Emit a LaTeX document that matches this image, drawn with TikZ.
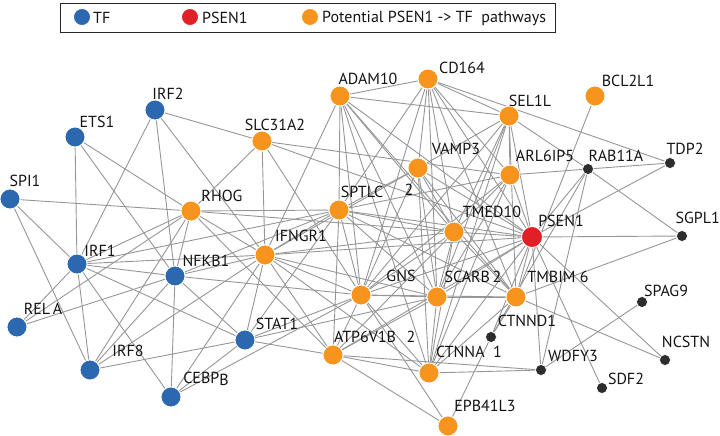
\documentclass[tikz,border=0pt]{standalone}
\usepackage{xcolor}
\usepackage{fontspec}
\setmainfont{PT Sans}
\usepackage{tikz}
\usetikzlibrary{backgrounds}

\definecolor{tfblue}{RGB}{44,104,176}
\definecolor{pathorange}{RGB}{247,148,30}
\definecolor{psenred}{RGB}{224,32,38}
\definecolor{otherdark}{RGB}{45,45,45}
\definecolor{edgegray}{RGB}{150,150,150}

\begin{document}
\begin{tikzpicture}[x=1pt, y=-1pt,
  tf/.style={circle, fill=tfblue, draw=white, line width=0.8pt, minimum size=20pt, inner sep=0pt},
  pway/.style={circle, fill=pathorange, draw=white, line width=0.8pt, minimum size=20pt, inner sep=0pt},
  psen/.style={circle, fill=psenred, draw=white, line width=0.8pt, minimum size=21pt, inner sep=0pt},
  other/.style={circle, fill=otherdark, draw=white, line width=0.6pt, minimum size=11pt, inner sep=0pt},
  lab/.style={font=\fontsize{16}{18}\selectfont, inner sep=0pt, text=black!92},
  edge/.style={edgegray, line width=0.9pt}
]
  \useasboundingbox (0,0) rectangle (720,436);

  % legend
  \node[draw=black!85, line width=1pt, minimum width=495pt, minimum height=29pt,
        anchor=north west] (legend) at (60,3) {};
  \node[tf, minimum size=17pt] (key-tf) at (82,17) {};
  \node[lab, anchor=west] (key-tf-t) at (93,18) {TF};
  \node[psen, minimum size=17pt] (key-psen) at (190,17) {};
  \node[lab, anchor=west] (key-psen-t) at (202,18) {PSEN1};
  \node[pway, minimum size=17pt] (key-pway) at (310,17) {};
  \node[lab, anchor=west] (key-pway-t) at (322,18) {Potential PSEN1 -> TF\ \ pathways};

  % transcription factors
  \node[tf] (irf2)  at (155,110) {};
  \node[tf] (ets1)  at (75,137) {};
  \node[tf] (spi1)  at (10,199) {};
  \node[tf] (irf1)  at (77,264) {};
  \node[tf] (nfkb1) at (175,276) {};
  \node[tf] (rela)  at (17,327) {};
  \node[tf] (irf8)  at (90,370) {};
  \node[tf] (cebpb) at (171,397) {};
  \node[tf] (stat1) at (245,340) {};

  % pathway genes
  \node[pway] (rhog)    at (191,211) {};
  \node[pway] (slc31a2) at (262,141) {};
  \node[pway] (adam10)  at (340,96) {};
  \node[pway] (cd164)   at (428,79) {};
  \node[pway] (bcl2l1)  at (595,96) {};
  \node[pway] (sel1l)   at (509,116) {};
  \node[pway] (vamp3)   at (418,168) {};
  \node[pway] (arl6ip5) at (510,175) {};
  \node[pway] (sptlc)   at (339,210) {};
  \node[pway] (ifngr1)  at (265,255) {};
  \node[pway] (tmed10)  at (454,232) {};
  \node[pway] (gns)     at (361,295) {};
  \node[pway] (scarb2)  at (437,297) {};
  \node[pway] (tmbim6)  at (516,297) {};
  \node[pway] (atp6v1b) at (333,355) {};
  \node[pway] (ctnna1)  at (429,373) {};
  \node[pway] (epb41l3) at (448,426) {};

  % PSEN1 and partners
  \node[psen] (psen1)   at (532,237) {};
  \node[other] (rab11a) at (588,169) {};
  \node[other] (tdp2)   at (670,163) {};
  \node[other] (sgpl1)  at (682,236) {};
  \node[other] (spag9)  at (642,302) {};
  \node[other] (ctnnd1) at (491,337) {};
  \node[other] (wdfy3)  at (541,370) {};
  \node[other] (ncstn)  at (665,360) {};
  \node[other] (sdf2)   at (602,388) {};

  % labels
  \node[lab] (t-irf2)    at (168,94)  {IRF2};
  \node[lab] (t-ets1)    at (97,122)  {ETS1};
  \node[lab] (t-spi1)    at (25,181)  {SPI1};
  \node[lab] (t-irf1)    at (100,251) {IRF1};
  \node[lab] (t-nfkb1)   at (206,261) {NFKB1};
  \node[lab] (t-rela)    at (43,309)  {REL\,A};
  \node[lab] (t-irf8)    at (128,351) {IRF8};
  \node[lab] (t-cebpb)   at (206,379) {CEBP\raisebox{-2pt}{B}};
  \node[lab] (t-stat1)   at (277,324) {STAT1};
  \node[lab] (t-rhog)    at (222,196) {RHOG};
  \node[lab] (t-slc31a2) at (275,125) {SLC31A2};
  \node[lab] (t-adam10)  at (368,79)  {ADAM10};
  \node[lab] (t-cd164)   at (462,68)  {CD164};
  \node[lab] (t-bcl2l1)  at (628,81)  {BCL2L1};
  \node[lab] (t-sel1l)   at (530,101) {SEL1L};
  \node[lab] (t-vamp3)   at (456,149) {VAMP3};
  \node[lab] (t-arl6ip5) at (545,156) {ARL6IP5};
  \node[lab] (t-sptlc)   at (362,192) {SPTLC};
  \node[lab] (t-sptlc2)  at (409,190) {2};
  \node[lab] (t-ifngr1)  at (301,236) {IFNGR1};
  \node[lab] (t-tmed10)  at (492,212) {TMED10};
  \node[lab] (t-gns)     at (401,276) {GNS};
  \node[lab] (t-scarb2)  at (473,277) {SCARB\,2};
  \node[lab] (t-tmbim6)  at (558,277) {TMBIM\ 6};
  \node[lab] (t-atp6v1b) at (365,337) {ATP6V1B};
  \node[lab] (t-atp2)    at (411,337) {2};
  \node[lab] (t-ctnna1)  at (469,352) {CTNNA\ \ 1};
  \node[lab] (t-epb41l3) at (485,406) {EPB41L3};
  \node[lab] (t-psen1)   at (561,221) {PSEN1};
  \node[lab] (t-rab11a)  at (616,156) {RAB11A};
  \node[lab] (t-tdp2)    at (685,149) {TDP2};
  \node[lab, anchor=east] (t-sgpl1) at (720,218) {SGPL1};
  \node[lab] (t-spag9)   at (666,291) {SPAG9};
  \node[lab] (t-ctnnd1)  at (527,321) {CTNND1};
  \node[lab] (t-wdfy3)   at (573,356) {WDFY3};
  \node[lab] (t-ncstn)   at (686,342) {NCSTN};
  \node[lab] (t-sdf2)    at (626,379) {SDF2};

  % interactions
  \begin{scope}[on background layer]
    \foreach \b in {irf1,nfkb1,slc31a2,ifngr1} \draw[edge] (irf2) -- (\b);
    \foreach \b in {irf1,nfkb1,rhog} \draw[edge] (ets1) -- (\b);
    \foreach \b in {rhog,irf1,irf8} \draw[edge] (spi1) -- (\b);
    \foreach \b in {irf1,nfkb1,rhog} \draw[edge] (rela) -- (\b);
    \foreach \b in {rhog,nfkb1,ifngr1,irf8,cebpb,stat1,sptlc} \draw[edge] (irf1) -- (\b);
    \foreach \b in {rhog,ifngr1,cebpb,stat1,irf8,sptlc,gns} \draw[edge] (nfkb1) -- (\b);
    \foreach \b in {rhog,ifngr1,stat1} \draw[edge] (irf8) -- (\b);
    \foreach \b in {ifngr1,stat1,gns} \draw[edge] (cebpb) -- (\b);
    \foreach \b in {ifngr1,gns,atp6v1b,sptlc,scarb2} \draw[edge] (stat1) -- (\b);
    \foreach \b in {slc31a2,ifngr1,sptlc,tmed10,atp6v1b} \draw[edge] (rhog) -- (\b);
    \foreach \b in {ifngr1,gns,psen1,arl6ip5} \draw[edge] (slc31a2) -- (\b);
    \foreach \b in {ifngr1,sptlc,cd164,sel1l,tmed10,psen1,scarb2,gns,tmbim6,ctnna1}
      \draw[edge] (adam10) -- (\b);
    \foreach \b in {sel1l,tdp2,vamp3,sptlc,tmed10,psen1,scarb2,tmbim6,arl6ip5,gns}
      \draw[edge] (cd164) -- (\b);
    \foreach \b in {rab11a,arl6ip5,tmed10,psen1,scarb2,tmbim6,vamp3,ctnna1,gns}
      \draw[edge] (sel1l) -- (\b);
    \draw[edge] (bcl2l1) -- (tmbim6);
    \foreach \b in {sptlc,tmed10,psen1,scarb2,tmbim6,gns,ctnna1,ifngr1} \draw[edge] (vamp3) -- (\b);
    \foreach \b in {rab11a,tmed10,psen1,scarb2,gns,sptlc,ctnna1} \draw[edge] (arl6ip5) -- (\b);
    \foreach \b in {tdp2,sgpl1,psen1,ctnnd1,wdfy3} \draw[edge] (rab11a) -- (\b);
    \draw[edge] (tdp2) -- (psen1);
    \foreach \b in {psen1,gns,scarb2,sptlc,ifngr1,ctnna1,tmbim6,atp6v1b} \draw[edge] (tmed10) -- (\b);
    \foreach \b in {sgpl1,tmbim6,scarb2,gns,ctnna1,ctnnd1,wdfy3,sdf2,ncstn,ifngr1,sptlc,atp6v1b}
      \draw[edge] (psen1) -- (\b);
    \draw[edge] (sgpl1) -- (tmbim6);
    \foreach \b in {scarb2,ncstn,ctnnd1,gns,ctnna1} \draw[edge] (tmbim6) -- (\b);
    \draw[edge] (spag9) -- (wdfy3);
    \foreach \b in {ctnna1,atp6v1b} \draw[edge] (wdfy3) -- (\b);
    \draw[edge] (ctnnd1) -- (epb41l3);
    \foreach \b in {scarb2,atp6v1b,gns,ifngr1} \draw[edge] (ctnna1) -- (\b);
    \foreach \b in {atp6v1b,gns} \draw[edge] (epb41l3) -- (\b);
    \foreach \b in {gns,ifngr1,atp6v1b,sptlc} \draw[edge] (scarb2) -- (\b);
    \foreach \b in {ifngr1,atp6v1b,sptlc} \draw[edge] (gns) -- (\b);
    \draw[edge] (atp6v1b) -- (ifngr1);
    \draw[edge] (ifngr1) -- (sptlc);
    \foreach \b in {tmbim6,atp6v1b} \draw[edge] (sptlc) -- (\b);
  \end{scope}
\end{tikzpicture}
\end{document}
